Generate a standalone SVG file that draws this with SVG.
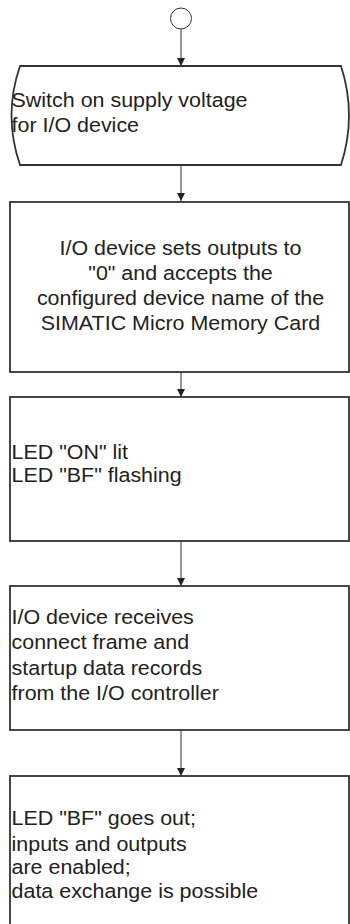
<svg xmlns="http://www.w3.org/2000/svg" width="350" height="924" viewBox="0 0 350 924">
<style>
.box{fill:#fff;stroke:#333;stroke-width:1.8}
.con{stroke:#333;stroke-width:1;fill:none}
.t{font-family:"Liberation Sans",Arial,sans-serif;font-size:19.5px;fill:#222}
.c{text-anchor:middle}
</style>
<defs>
<marker id="ah" viewBox="0 0 8 8" refX="8" refY="4" markerWidth="8" markerHeight="8" markerUnits="userSpaceOnUse" orient="auto">
<path d="M0,0 L8,4 L0,8 Z" fill="#222"/>
</marker>
</defs>
<rect width="350" height="924" fill="#fff"/>
<g id="connectors">
<line class="con" x1="181" y1="29" x2="181" y2="66" marker-end="url(#ah)"/>
<line class="con" x1="181" y1="165" x2="181" y2="201" marker-end="url(#ah)"/>
<line class="con" x1="181" y1="372" x2="181" y2="397" marker-end="url(#ah)"/>
<line class="con" x1="181" y1="541" x2="181" y2="586" marker-end="url(#ah)"/>
<line class="con" x1="181" y1="730" x2="181" y2="776" marker-end="url(#ah)"/>
</g>
<g id="start">
<circle cx="181" cy="18.5" r="10.5" fill="#fff" stroke="#333" stroke-width="1"/>
</g>
<g id="n1">
<path class="box" d="M20,66 H341 Q357,115.5 341,165 H20 Q3,115.5 20,66 Z"/>
<g transform="scale(1.1,1)">
<text class="t" x="10.5" y="107">Switch on supply voltage</text>
<text class="t" x="10.5" y="132">for I/O device</text>
</g>
</g>
<g id="n2">
<rect class="box" x="10" y="202" width="339" height="170"/>
<g transform="scale(1.1,1)">
<text class="t c" x="164.1" y="255.5">I/O device sets outputs to</text>
<text class="t c" x="164.1" y="280.5">"0" and accepts the</text>
<text class="t c" x="164.1" y="305.5">configured device name of the</text>
<text class="t c" x="164.1" y="330">SIMATIC Micro Memory Card</text>
</g>
</g>
<g id="n3">
<rect class="box" x="10" y="397" width="339" height="144"/>
<g transform="scale(1.1,1)">
<text class="t" x="10.5" y="459">LED "ON" lit</text>
<text class="t" x="10.5" y="482.5">LED "BF" flashing</text>
</g>
</g>
<g id="n4">
<rect class="box" x="10" y="586" width="339" height="144"/>
<g transform="scale(1.1,1)">
<text class="t" x="10.5" y="624">I/O device receives</text>
<text class="t" x="10.5" y="649.5">connect frame and</text>
<text class="t" x="10.5" y="675">startup data records</text>
<text class="t" x="10.5" y="700">from the I/O controller</text>
</g>
</g>
<g id="n5">
<rect class="box" x="10" y="776" width="339" height="200"/>
<g transform="scale(1.1,1)">
<text class="t" x="10.5" y="825.5">LED "BF" goes out;</text>
<text class="t" x="10.5" y="851">inputs and outputs</text>
<text class="t" x="10.5" y="874.5">are enabled;</text>
<text class="t" x="10.5" y="898">data exchange is possible</text>
</g>
</g>
</svg>
